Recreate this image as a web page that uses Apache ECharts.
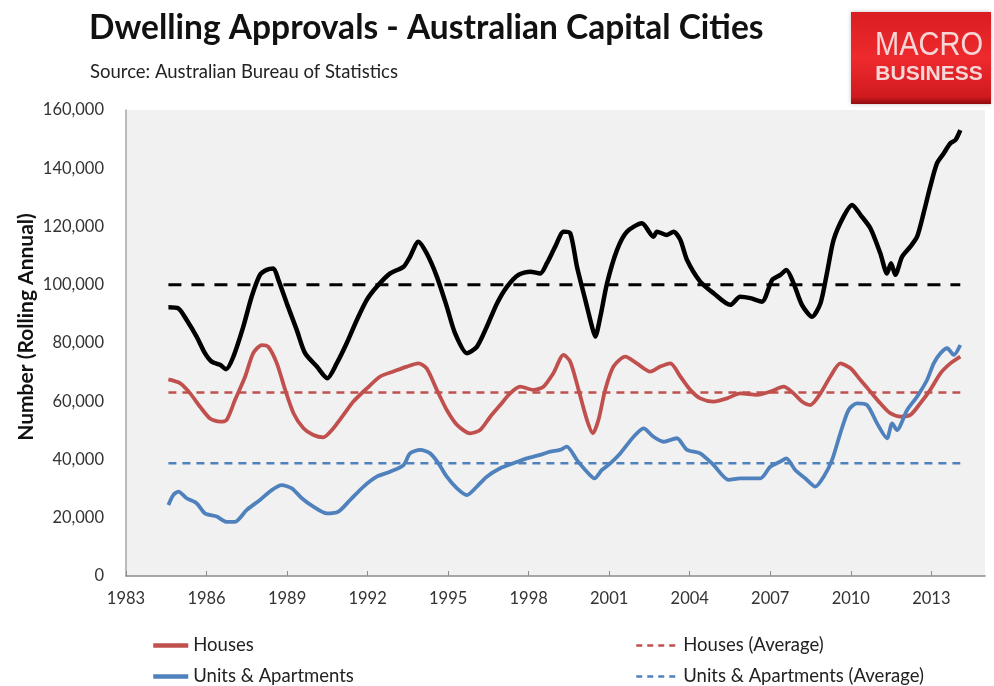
<!DOCTYPE html>
<html>
<head>
<meta charset="utf-8">
<script src="https://cdn.jsdelivr.net/npm/echarts@6/dist/echarts.min.js"></script>
<style>
  html, body { margin: 0; padding: 0; background: #ffffff; }
  #chart { width: 994px; height: 686px; }
</style>
</head>
<body>
<div id="chart"></div>
<script>
// Rolling annual dwelling approvals, [year, number]
const totalSeries = [
  [1984.58, 92300], [1984.95, 91900], [1985.26, 87900], [1985.63, 82200], [1985.94, 76500],
  [1986.19, 73600], [1986.5, 72500], [1986.73, 71000], [1987.0, 75300], [1987.37, 85600],
  [1987.68, 95900], [1987.99, 103400], [1988.24, 105100], [1988.49, 105600], [1988.68, 101600],
  [1988.99, 93600], [1989.36, 84500], [1989.67, 76500], [1990.11, 71900], [1990.5, 67900],
  [1990.85, 73000], [1991.22, 79900], [1991.6, 87900], [1991.97, 94800], [1992.34, 99300],
  [1992.84, 103900], [1993.34, 106200], [1993.58, 109600], [1993.89, 114800], [1994.2, 110800],
  [1994.58, 102800], [1994.95, 92500], [1995.26, 83300], [1995.7, 76500], [1996.07, 78700],
  [1996.44, 85600], [1996.82, 93600], [1997.19, 99300], [1997.62, 103400], [1998.06, 104500],
  [1998.43, 103900], [1998.68, 107400], [1998.99, 113100], [1999.3, 118200], [1999.55, 117700],
  [1999.8, 106200], [2000.11, 94800], [2000.36, 85600], [2000.48, 82200], [2000.67, 89000],
  [2000.92, 100500], [2001.29, 111900], [2001.66, 118200], [2002.22, 121100], [2002.65, 116500],
  [2002.78, 118200], [2003.15, 117100], [2003.4, 118200], [2003.65, 115400], [2003.9, 108500],
  [2004.39, 101100], [2004.89, 97100], [2005.51, 93100], [2005.88, 95900], [2006.26, 95400],
  [2006.69, 94200], [2007.07, 101600], [2007.38, 103400], [2007.6, 105100], [2007.87, 100500],
  [2008.18, 93100], [2008.56, 89000], [2008.87, 93600], [2009.11, 103900], [2009.36, 115400],
  [2009.73, 123400], [2010.05, 127400], [2010.36, 124000], [2010.73, 119400], [2011.1, 110800],
  [2011.35, 103900], [2011.5, 107400], [2011.66, 103400], [2011.91, 109600], [2012.22, 113100],
  [2012.47, 116500], [2012.71, 124500], [2012.96, 133700], [2013.21, 141700], [2013.46, 145100],
  [2013.71, 148600], [2013.9, 149700], [2014.08, 153100]
];

const housesSeries = [
  [1984.58, 67500], [1985.01, 66200], [1985.39, 62700], [1985.76, 58100], [1986.13, 54100],
  [1986.5, 53000], [1986.75, 53600], [1987.06, 60400], [1987.44, 68500], [1987.74, 76500],
  [1988.06, 79300], [1988.3, 78700], [1988.62, 73000], [1988.93, 63900], [1989.24, 55900],
  [1989.61, 50700], [1989.98, 48400], [1990.35, 47600], [1990.67, 50100], [1991.1, 55300],
  [1991.47, 59900], [1991.97, 64400], [1992.47, 68500], [1992.96, 70200], [1993.46, 71900],
  [1993.89, 73000], [1994.2, 71300], [1994.58, 63900], [1994.95, 57000], [1995.33, 51900],
  [1995.82, 49000], [1996.19, 50100], [1996.57, 54700], [1996.94, 58700], [1997.31, 62700],
  [1997.68, 65000], [1998.18, 63900], [1998.55, 65000], [1998.92, 69600], [1999.3, 75900],
  [1999.55, 73600], [1999.86, 63900], [2000.17, 53600], [2000.39, 49000], [2000.6, 53600],
  [2000.85, 63900], [2001.16, 71900], [2001.6, 75300], [2002.03, 73000], [2002.53, 70200],
  [2002.9, 71900], [2003.28, 73000], [2003.65, 68500], [2004.02, 63900], [2004.39, 61000],
  [2004.89, 59900], [2005.39, 61000], [2005.88, 62700], [2006.51, 62200], [2007.0, 63300],
  [2007.5, 65000], [2007.87, 62700], [2008.18, 59900], [2008.49, 58700], [2008.87, 62700],
  [2009.24, 68500], [2009.61, 73000], [2009.99, 71300], [2010.36, 67300], [2010.73, 63300],
  [2011.1, 59300], [2011.47, 55900], [2011.85, 54700], [2012.22, 55300], [2012.59, 59300],
  [2012.96, 63900], [2013.34, 69600], [2013.71, 73000], [2014.08, 75300]
];

const unitsSeries = [
  [1984.58, 24400], [1984.76, 27800], [1984.95, 29000], [1985.26, 26700], [1985.63, 25000],
  [1985.94, 21500], [1986.38, 20400], [1986.75, 18600], [1987.06, 18600], [1987.5, 22700],
  [1987.99, 26100], [1988.43, 29500], [1988.8, 31200], [1989.18, 30100], [1989.55, 26700],
  [1989.98, 23800], [1990.48, 21500], [1990.91, 22100], [1991.35, 26100], [1991.85, 30700],
  [1992.34, 34100], [1992.84, 35800], [1993.34, 38100], [1993.58, 42100], [1993.96, 43300],
  [1994.33, 42100], [1994.64, 38700], [1994.95, 34100], [1995.33, 30100], [1995.7, 27800],
  [1996.07, 30700], [1996.44, 34100], [1996.94, 37000], [1997.43, 38700], [1997.93, 40400],
  [1998.43, 41600], [1998.8, 42700], [1999.17, 43300], [1999.42, 44400], [1999.8, 39800],
  [2000.17, 35800], [2000.45, 33500], [2000.73, 36400], [2001.04, 38700], [2001.41, 42100],
  [2001.91, 47800], [2002.28, 50700], [2002.65, 47800], [2003.03, 46100], [2003.52, 47300],
  [2003.9, 43300], [2004.39, 42100], [2004.89, 38100], [2005.45, 33000], [2005.88, 33500],
  [2006.63, 33500], [2007.0, 37500], [2007.38, 39300], [2007.6, 40400], [2007.93, 36400],
  [2008.31, 33500], [2008.68, 30700], [2008.99, 34100], [2009.3, 39800], [2009.61, 49000],
  [2009.92, 57000], [2010.23, 59300], [2010.61, 58700], [2010.98, 52400], [2011.35, 47300],
  [2011.54, 52400], [2011.72, 50100], [2012.1, 57000], [2012.47, 61600], [2012.84, 67300],
  [2013.09, 73000], [2013.34, 76500], [2013.59, 78200], [2013.84, 75900], [2014.08, 79300]
];

// Long-run averages over the whole period
const totalAverage = 100000;
const housesAverage = 63000;
const unitsAverage = 38700;
const periodStart = 1984.58;
const periodEnd = 2014.08;

const yearTicks = [1983, 1986, 1989, 1992, 1995, 1998, 2001, 2004, 2007, 2010, 2013];

const RED = '#c0504d';
const BLUE = '#4f81bd';
const FONT = 'Lato, "Open Sans", sans-serif';

function flatLine(v) { return [[periodStart, v], [periodEnd, v]]; }

const chart = echarts.init(document.getElementById('chart'), null, { renderer: 'canvas' });

chart.setOption({
  backgroundColor: '#ffffff',
  animation: false,
  textStyle: { fontFamily: FONT },
  title: [
    {
      text: 'Dwelling Approvals - Australian Capital Cities',
      left: 84, top: 6,
      textStyle: { fontFamily: FONT, fontSize: 33.5, fontWeight: 'bold', color: '#111111' }
    },
    {
      text: 'Source: Australian Bureau of Statistics',
      left: 85, top: 58,
      textStyle: { fontFamily: FONT, fontSize: 18.5, fontWeight: 'normal', color: '#222222' }
    }
  ],
  graphic: [
    {
      type: 'rect',
      shape: { x: 851, y: 12, width: 140, height: 92 },
      style: {
        fill: {
          type: 'linear', x: 0, y: 0, x2: 0, y2: 1,
          colorStops: [
            { offset: 0, color: '#d91e22' },
            { offset: 0.5, color: '#ee2a2e' },
            { offset: 0.92, color: '#d01a1e' },
            { offset: 1, color: '#8e0e10' }
          ]
        },
        shadowBlur: 4, shadowColor: 'rgba(0,0,0,0.25)'
      },
      z: 10
    },
    {
      type: 'text', x: 929, y: 46, scaleX: 0.88,
      style: {
        text: 'MACRO', fill: '#f6d6d6', align: 'center', verticalAlign: 'middle',
        font: '33px "Liberation Sans", Arial, sans-serif'
      },
      z: 11
    },
    {
      type: 'text', x: 929, y: 74,
      style: {
        text: 'BUSINESS', fill: '#f6d6d6', align: 'center', verticalAlign: 'middle',
        font: 'bold 21px "Liberation Sans", Arial, sans-serif'
      },
      z: 11
    }
  ],
  grid: {
    left: 126, right: 9, top: 110, bottom: 110,
    show: true, backgroundColor: '#f1f1f1', borderWidth: 0
  },
  legend: [
    {
      data: ['Houses', 'Units & Apartments'],
      orient: 'vertical', left: 151, top: 636, padding: 0,
      itemWidth: 35, itemHeight: 18, itemGap: 12, itemTextGap: 2,
      itemStyle: { opacity: 0 },
      lineStyle: { width: 4.5 },
      textStyle: { fontFamily: FONT, fontSize: 18.5, color: '#222222' }
    },
    {
      data: ['Houses (Average)', 'Units & Apartments (Average)'],
      orient: 'vertical', left: 635, top: 636, padding: 0,
      itemWidth: 42, itemHeight: 18, itemGap: 12, itemTextGap: 6,
      itemStyle: { opacity: 0 },
      lineStyle: { width: 2.5, type: [6, 5] },
      textStyle: { fontFamily: FONT, fontSize: 18.5, color: '#222222' }
    }
  ],
  xAxis: {
    type: 'value', min: 1983, max: 2015, interval: 3,
    axisLine: { show: true, lineStyle: { color: '#8c8c8c', width: 1.5 } },
    axisTick: { show: true, inside: true, length: 5, lineStyle: { color: '#8c8c8c' }, customValues: yearTicks },
    axisLabel: {
      fontFamily: FONT, fontSize: 16.5, color: '#333333', margin: 14,
      customValues: yearTicks,
      formatter: function (v) { return String(v); }
    },
    splitLine: { show: false }
  },
  yAxis: {
    type: 'value', min: 0, max: 160000, interval: 20000,
    name: 'Number (Rolling Annual)',
    nameLocation: 'middle', nameRotate: 90, nameGap: 89,
    nameMoveOverlap: false,
    nameTextStyle: {
      fontFamily: FONT, fontSize: 21, fontWeight: 'bold', color: '#111111',
      padding: [0, 0, 0, 32]
    },
    axisLine: { show: true, lineStyle: { color: '#a6a6a6', width: 1.5 } },
    axisTick: { show: false },
    axisLabel: {
      fontFamily: FONT, fontSize: 16.5, color: '#333333', margin: 22,
      formatter: function (v) { return v.toLocaleString('en-US'); }
    },
    splitLine: { show: false }
  },
  series: [
    {
      name: 'Total (Average)', type: 'line', data: flatLine(totalAverage),
      symbol: 'none', silent: true,
      lineStyle: { color: '#000000', width: 3, type: [13, 10] }, itemStyle: { color: '#000000' }
    },
    {
      name: 'Houses (Average)', type: 'line', data: flatLine(housesAverage),
      symbol: 'none', silent: true,
      lineStyle: { color: RED, width: 2.5, type: [8, 6] }, itemStyle: { color: RED }
    },
    {
      name: 'Units & Apartments (Average)', type: 'line', data: flatLine(unitsAverage),
      symbol: 'none', silent: true,
      lineStyle: { color: BLUE, width: 2.5, type: [8, 6] }, itemStyle: { color: BLUE }
    },
    {
      name: 'Houses', type: 'line', data: housesSeries,
      symbol: 'none', smooth: 0.25,
      lineStyle: { color: RED, width: 3.8 }, itemStyle: { color: RED }
    },
    {
      name: 'Units & Apartments', type: 'line', data: unitsSeries,
      symbol: 'none', smooth: 0.25,
      lineStyle: { color: BLUE, width: 3.8 }, itemStyle: { color: BLUE }
    },
    {
      name: 'Total', type: 'line', data: totalSeries,
      symbol: 'none', smooth: 0.25,
      lineStyle: { color: '#000000', width: 4.5 }, itemStyle: { color: '#000000' }
    }
  ]
});
</script>
</body>
</html>
